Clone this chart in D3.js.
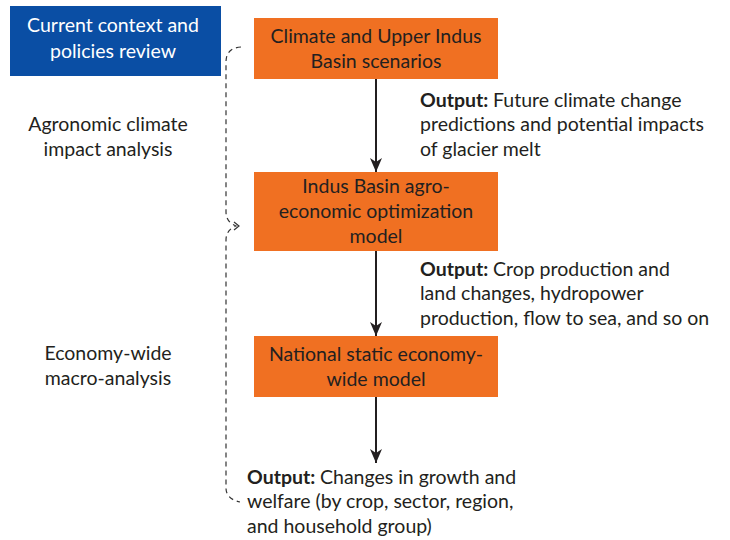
<!DOCTYPE html>
<html>
<head>
<meta charset="utf-8">
<script src="https://cdn.jsdelivr.net/npm/d3@7"></script>
<style>
  body { margin: 0; background: #fff; }
  svg { display: block; }
  text { font-family: Lato, "Open Sans", sans-serif; }
</style>
</head>
<body>
<div class="chart"></div>
<script>
// flow boxes (orange), top to bottom
const boxLabels = [
  ['Climate and Upper Indus', 'Basin scenarios'],
  ['Indus Basin agro-', 'economic optimization', 'model'],
  ['National static economy-', 'wide model']
];
const boxTops = [18, 172, 336];
const boxBottoms = [79, 251, 397];

// outputs after each box
const outputLines = [
  ['Future climate change', 'predictions and potential impacts', 'of glacier melt'],
  ['Crop production and', 'land changes, hydropower', 'production, flow to sea, and so on'],
  ['Changes in growth and', 'welfare (by crop, sector, region,', 'and household group)']
];
const outputX = [420, 420, 247];
const outputY = [100, 269, 477];

// left side labels
const sideLabels = [
  ['Agronomic climate', 'impact analysis'],
  ['Economy-wide', 'macro-analysis']
];
const sideY = [124, 353];

const headerLabel = ['Current context and', 'policies review'];

const width = 730, height = 540;
const fontSize = 19.5, lineH = 25;
const orange = '#f07022', blue = '#0a4ea4', ink = '#231f20';

const svg = d3.select('.chart').append('svg')
  .attr('width', width)
  .attr('height', height);

const defs = svg.append('defs');
defs.append('marker')
  .attr('id', 'head')
  .attr('viewBox', '0 0 14 12')
  .attr('refX', 14).attr('refY', 6)
  .attr('markerWidth', 14).attr('markerHeight', 12)
  .attr('markerUnits', 'userSpaceOnUse')
  .attr('orient', 'auto')
  .append('path')
    .attr('d', 'M0,0 L14,6 L0,12 L4,6 Z')
    .attr('fill', ink);

// blue header box
svg.append('rect')
  .attr('x', 10).attr('y', 6)
  .attr('width', 211).attr('height', 70)
  .attr('fill', blue);
svg.append('g').selectAll('text')
  .data(headerLabel)
  .join('text')
    .attr('x', 113)
    .attr('y', (d, i) => 25 + i * 26)
    .attr('dy', '0.35em')
    .attr('text-anchor', 'middle')
    .attr('font-size', fontSize)
    .attr('fill', '#fff')
    .text(d => d);

// orange boxes
const boxX = 254, boxW = 244, cx = boxX + boxW / 2;
const boxes = svg.append('g').selectAll('g')
  .data(boxLabels)
  .join('g');
boxes.append('rect')
  .attr('x', boxX)
  .attr('y', (d, i) => boxTops[i])
  .attr('width', boxW)
  .attr('height', (d, i) => boxBottoms[i] - boxTops[i])
  .attr('fill', orange);
boxes.each(function(lines, i) {
  const mid = (boxTops[i] + boxBottoms[i]) / 2;
  const start = mid - (lines.length - 1) * lineH / 2;
  d3.select(this).selectAll('text')
    .data(lines)
    .join('text')
      .attr('x', cx)
      .attr('y', (d, j) => start + j * lineH)
      .attr('dy', '0.35em')
      .attr('text-anchor', 'middle')
      .attr('font-size', fontSize)
      .attr('fill', ink)
      .text(d => d);
});

// arrows between boxes
const arrowEnds = [boxTops[1], boxTops[2], 463];
svg.append('g').selectAll('line')
  .data(arrowEnds)
  .join('line')
    .attr('x1', cx).attr('x2', cx)
    .attr('y1', (d, i) => boxBottoms[i])
    .attr('y2', d => d)
    .attr('stroke', ink)
    .attr('stroke-width', 2)
    .attr('marker-end', 'url(#head)');

// output texts
outputLines.forEach((lines, i) => {
  const t = svg.append('g');
  t.selectAll('text')
    .data(lines)
    .join('text')
      .attr('x', outputX[i])
      .attr('y', (d, j) => outputY[i] + j * 24.5)
      .attr('dy', '0.35em')
      .attr('font-size', fontSize)
      .attr('fill', ink)
      .each(function(d, j) {
        const el = d3.select(this);
        if (j === 0) el.append('tspan').attr('font-weight', 'bold').text('Output: ');
        el.append('tspan').text(d);
      });
});

// side labels
sideLabels.forEach((lines, i) => {
  svg.append('g').selectAll('text')
    .data(lines)
    .join('text')
      .attr('x', 108)
      .attr('y', (d, j) => sideY[i] + j * 25)
      .attr('dy', '0.35em')
      .attr('text-anchor', 'middle')
      .attr('font-size', fontSize)
      .attr('fill', ink)
      .text(d => d);
});

// dashed bracket on the left
const bx = 226;
const bracket = d3.path();
bracket.moveTo(241, 47);
bracket.quadraticCurveTo(bx, 48, bx, 62);
bracket.lineTo(bx, 212);
bracket.quadraticCurveTo(bx, 222, 236, 226);
bracket.quadraticCurveTo(bx, 230, bx, 240);
bracket.lineTo(bx, 488);
bracket.quadraticCurveTo(bx, 499, 240, 502);
svg.append('path')
  .attr('d', bracket.toString())
  .attr('fill', 'none')
  .attr('stroke', '#333')
  .attr('stroke-width', 1.2)
  .attr('stroke-dasharray', '5,4');
svg.append('path')
  .attr('d', 'M234,222 L239,226 L234,230')
  .attr('fill', 'none')
  .attr('stroke', '#333')
  .attr('stroke-width', 1.2);
</script>
</body>
</html>
